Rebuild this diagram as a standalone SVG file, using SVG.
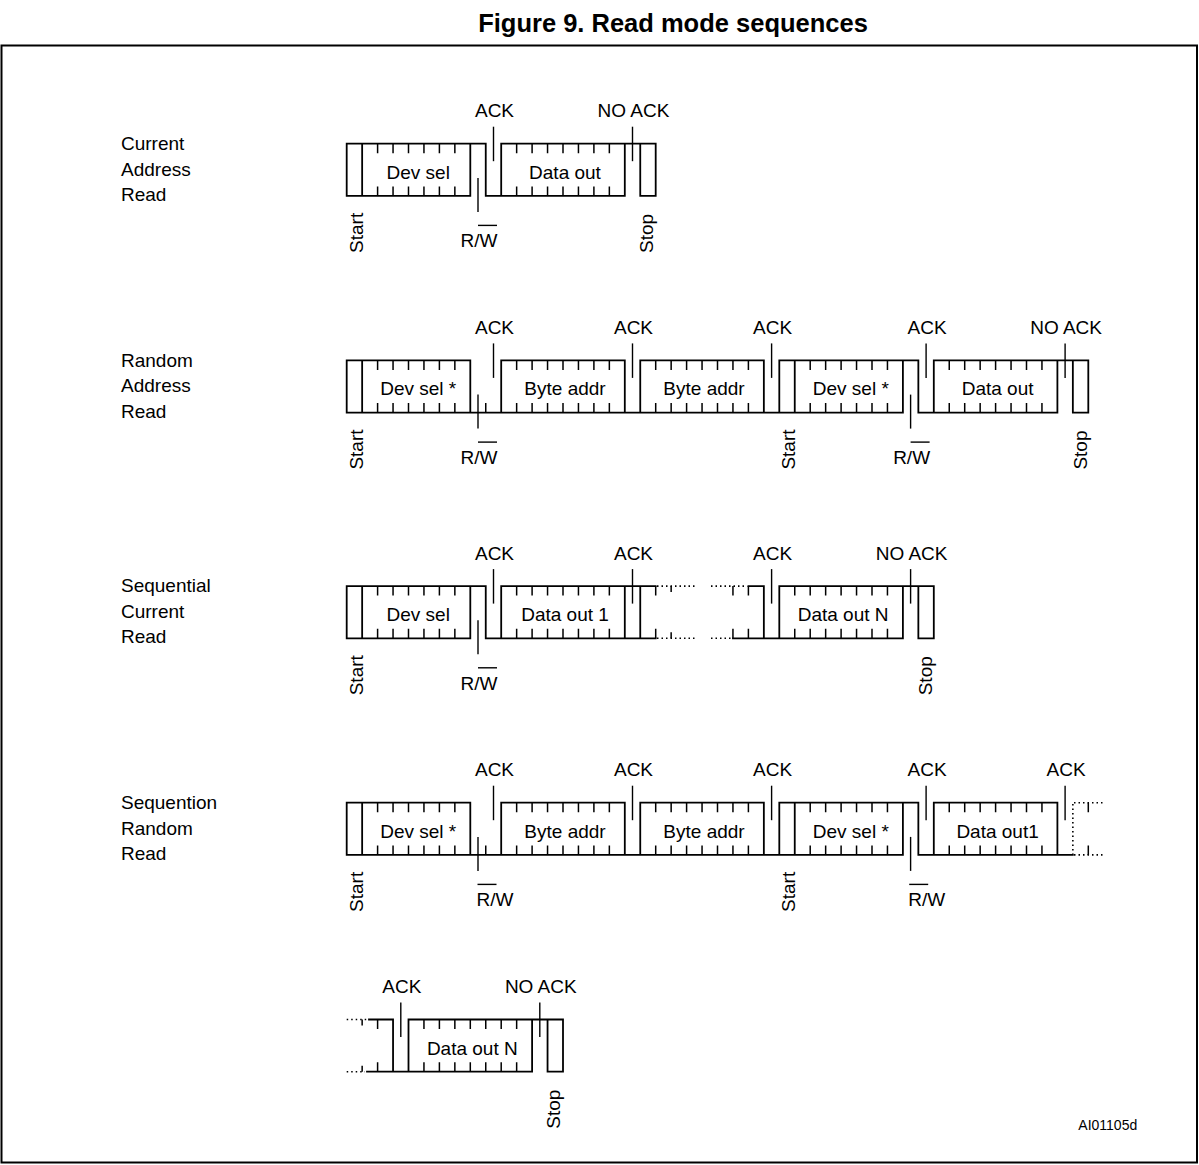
<svg xmlns="http://www.w3.org/2000/svg" xmlns:xlink="http://www.w3.org/1999/xlink" width="1199" height="1165" viewBox="0 0 1199 1165">
<defs>
<style>
.w{stroke:#000;stroke-width:1.8;fill:none;stroke-linecap:square}
.d{stroke:#000;stroke-width:1.6;fill:none;stroke-dasharray:1.5 3}
.k{stroke:#000;stroke-width:1.5;fill:none}
.m{stroke:#000;stroke-width:1.4;fill:none}
text{font-family:"Liberation Sans",Arial,Helvetica,sans-serif;font-size:19px;fill:#000}
.c{text-anchor:middle}
.title{font-size:25.5px;font-weight:bold}
.id{font-size:14px}
</style>
<path id="tk" class="k" d="M0 0v9.5M0 52.2v-9.5"/>
<path id="tkb" class="k" d="M0 52.2v-9.5"/>
<path id="tks" class="k" d="M0 0v6M0 52.2v-6"/>
<path id="mk" class="m" d="M0 -17V17.5"/>
<path id="mr" class="m" d="M0 -18V16"/>
<path id="ov" class="m" d="M0 0h19"/>
</defs>
<rect width="1199" height="1165" fill="#fff"/>
<text class="title c" x="673" y="31.5">Figure 9. Read mode sequences</text>
<rect x="1.5" y="45.5" width="1195.5" height="1117" fill="none" stroke="#000" stroke-width="2"/>

<g id="seq1">
<g id="seq1-name"><text x="121" y="150">Current</text><text x="121" y="175.5">Address</text><text x="121" y="201">Read</text></g>
<path class="w" d="M346.7 143.7H485.75M501.2 143.7H655.7M346.7 195.9H470.3M485.75 195.9H624.8M640.25 195.9H655.7M346.7 143.7V195.9M362.15 143.7V195.9M470.3 143.7V195.9M485.75 143.7V195.9M501.2 143.7V195.9M624.8 143.7V195.9M640.25 143.7V195.9M655.7 143.7V195.9"/>
<g id="seq1-devsel"><use href="#tk" x="377.6" y="143.7"/><use href="#tk" x="393.05" y="143.7"/><use href="#tk" x="408.5" y="143.7"/><use href="#tk" x="423.95" y="143.7"/><use href="#tk" x="439.4" y="143.7"/><use href="#tk" x="454.85" y="143.7"/><text class="c" x="418.2" y="178.7">Dev sel</text></g>
<g id="seq1-dataout"><use href="#tk" x="516.65" y="143.7"/><use href="#tk" x="532.1" y="143.7"/><use href="#tk" x="547.55" y="143.7"/><use href="#tk" x="563" y="143.7"/><use href="#tk" x="578.45" y="143.7"/><use href="#tk" x="593.9" y="143.7"/><use href="#tk" x="609.35" y="143.7"/><text class="c" x="565" y="178.7">Data out</text></g>
<text class="c" x="494.5" y="117.2">ACK</text>
<text class="c" x="633.5" y="117.2">NO ACK</text>
<text class="c" x="479" y="247.4">R/W</text><use href="#ov" x="478" y="225.4"/>
<text transform="translate(363,252.9) rotate(-90)">Start</text>
<text transform="translate(653.2,252.9) rotate(-90)">Stop</text>
</g>

<g id="seq2">
<g id="seq2-name"><text x="121" y="366.7">Random</text><text x="121" y="392.2">Address</text><text x="121" y="417.7">Read</text></g>
<path class="w" d="M346.7 360.4H470.3M501.2 360.4H624.8M640.25 360.4H763.85M779.3 360.4H918.35M933.8 360.4H1088.3M346.7 412.6H902.9M918.35 412.6H1057.4M1072.85 412.6H1088.3M346.7 360.4V412.6M362.15 360.4V412.6M470.3 360.4V412.6M501.2 360.4V412.6M624.8 360.4V412.6M640.25 360.4V412.6M763.85 360.4V412.6M779.3 360.4V412.6M794.75 360.4V412.6M902.9 360.4V412.6M918.35 360.4V412.6M933.8 360.4V412.6M1057.4 360.4V412.6M1072.85 360.4V412.6M1088.3 360.4V412.6"/>
<use href="#tkb" x="485.75" y="360.4"/>
<g id="seq2-devsel1"><use href="#tk" x="377.6" y="360.4"/><use href="#tk" x="393.05" y="360.4"/><use href="#tk" x="408.5" y="360.4"/><use href="#tk" x="423.95" y="360.4"/><use href="#tk" x="439.4" y="360.4"/><use href="#tk" x="454.85" y="360.4"/><text class="c" x="418.2" y="395.4">Dev sel *</text></g>
<g id="seq2-byte1"><use href="#tk" x="516.65" y="360.4"/><use href="#tk" x="532.1" y="360.4"/><use href="#tk" x="547.55" y="360.4"/><use href="#tk" x="563" y="360.4"/><use href="#tk" x="578.45" y="360.4"/><use href="#tk" x="593.9" y="360.4"/><use href="#tk" x="609.35" y="360.4"/><text class="c" x="565" y="395.4">Byte addr</text></g>
<g id="seq2-byte2"><use href="#tk" x="655.7" y="360.4"/><use href="#tk" x="671.15" y="360.4"/><use href="#tk" x="686.6" y="360.4"/><use href="#tk" x="702.05" y="360.4"/><use href="#tk" x="717.5" y="360.4"/><use href="#tk" x="732.95" y="360.4"/><use href="#tk" x="748.4" y="360.4"/><text class="c" x="704" y="395.4">Byte addr</text></g>
<g id="seq2-devsel2"><use href="#tk" x="810.2" y="360.4"/><use href="#tk" x="825.65" y="360.4"/><use href="#tk" x="841.1" y="360.4"/><use href="#tk" x="856.55" y="360.4"/><use href="#tk" x="872" y="360.4"/><use href="#tk" x="887.45" y="360.4"/><text class="c" x="850.8" y="395.4">Dev sel *</text></g>
<g id="seq2-dataout"><use href="#tk" x="949.25" y="360.4"/><use href="#tk" x="964.7" y="360.4"/><use href="#tk" x="980.15" y="360.4"/><use href="#tk" x="995.6" y="360.4"/><use href="#tk" x="1011.05" y="360.4"/><use href="#tk" x="1026.5" y="360.4"/><use href="#tk" x="1041.95" y="360.4"/><text class="c" x="997.6" y="395.4">Data out</text></g>
<text class="c" x="494.5" y="333.9">ACK</text><text class="c" x="633.5" y="333.9">ACK</text><text class="c" x="772.6" y="333.9">ACK</text><text class="c" x="927.1" y="333.9">ACK</text><text class="c" x="1066.1" y="333.9">NO ACK</text>
<text class="c" x="479" y="464.1">R/W</text><use href="#ov" x="478" y="442.1"/>
<text class="c" x="911.6" y="464.1">R/W</text><use href="#ov" x="910.6" y="442.1"/>
<text transform="translate(363,469.6) rotate(-90)">Start</text>
<text transform="translate(795.2,469.6) rotate(-90)">Start</text>
<text transform="translate(1086.5,469.6) rotate(-90)">Stop</text>
</g>

<g id="seq3">
<g id="seq3-name"><text x="121" y="592.4">Sequential</text><text x="121" y="617.9">Current</text><text x="121" y="643.4">Read</text></g>
<path class="w" d="M346.7 586.1H485.75M501.2 586.1H655.7M748.4 586.1H763.85M779.3 586.1H933.8M346.7 638.3H470.3M485.75 638.3H655.7M732.95 638.3H902.9M918.35 638.3H933.8M346.7 586.1V638.3M362.15 586.1V638.3M470.3 586.1V638.3M485.75 586.1V638.3M501.2 586.1V638.3M624.8 586.1V638.3M640.25 586.1V638.3M763.85 586.1V638.3M779.3 586.1V638.3M902.9 586.1V638.3M918.35 586.1V638.3M933.8 586.1V638.3"/>
<path class="d" d="M657 586.1H697M711 586.1H746M657 638.3H697M711 638.3H731"/>
<g id="seq3-devsel"><use href="#tk" x="377.6" y="586.1"/><use href="#tk" x="393.05" y="586.1"/><use href="#tk" x="408.5" y="586.1"/><use href="#tk" x="423.95" y="586.1"/><use href="#tk" x="439.4" y="586.1"/><use href="#tk" x="454.85" y="586.1"/><text class="c" x="418.2" y="621.1">Dev sel</text></g>
<g id="seq3-data1"><use href="#tk" x="516.65" y="586.1"/><use href="#tk" x="532.1" y="586.1"/><use href="#tk" x="547.55" y="586.1"/><use href="#tk" x="563" y="586.1"/><use href="#tk" x="578.45" y="586.1"/><use href="#tk" x="593.9" y="586.1"/><use href="#tk" x="609.35" y="586.1"/><text class="c" x="565" y="621.1">Data out 1</text></g>
<g id="seq3-dataetc"><use href="#tk" x="655.7" y="586.1"/><use href="#tks" x="671.15" y="586.1"/><use href="#tk" x="732.95" y="586.1"/><use href="#tk" x="748.4" y="586.1"/></g>
<g id="seq3-dataN"><use href="#tk" x="794.75" y="586.1"/><use href="#tk" x="810.2" y="586.1"/><use href="#tk" x="825.65" y="586.1"/><use href="#tk" x="841.1" y="586.1"/><use href="#tk" x="856.55" y="586.1"/><use href="#tk" x="872" y="586.1"/><use href="#tk" x="887.45" y="586.1"/><text class="c" x="843.1" y="621.1">Data out N</text></g>
<text class="c" x="494.5" y="559.6">ACK</text><text class="c" x="633.5" y="559.6">ACK</text><text class="c" x="772.6" y="559.6">ACK</text><text class="c" x="911.6" y="559.6">NO ACK</text>
<text class="c" x="479" y="689.8">R/W</text><use href="#ov" x="478" y="667.8"/>
<text transform="translate(363,695.3) rotate(-90)">Start</text>
<text transform="translate(931.5,695.3) rotate(-90)">Stop</text>
</g>

<g id="seq4">
<g id="seq4-name"><text x="121" y="809">Sequention</text><text x="121" y="834.5">Random</text><text x="121" y="860">Read</text></g>
<path class="w" d="M346.7 802.7H470.3M501.2 802.7H624.8M640.25 802.7H763.85M779.3 802.7H918.35M933.8 802.7H1057.4M346.7 854.9H902.9M918.35 854.9H1072.85M346.7 802.7V854.9M362.15 802.7V854.9M470.3 802.7V854.9M501.2 802.7V854.9M624.8 802.7V854.9M640.25 802.7V854.9M763.85 802.7V854.9M779.3 802.7V854.9M794.75 802.7V854.9M902.9 802.7V854.9M918.35 802.7V854.9M933.8 802.7V854.9M1057.4 802.7V854.9"/>
<path class="d" d="M1074 802.7H1105M1074 854.9H1104M1072.85 804V854"/>
<use href="#tkb" x="485.75" y="802.7"/>
<g id="seq4-devsel1"><use href="#tk" x="377.6" y="802.7"/><use href="#tk" x="393.05" y="802.7"/><use href="#tk" x="408.5" y="802.7"/><use href="#tk" x="423.95" y="802.7"/><use href="#tk" x="439.4" y="802.7"/><use href="#tk" x="454.85" y="802.7"/><text class="c" x="418.2" y="837.7">Dev sel *</text></g>
<g id="seq4-byte1"><use href="#tk" x="516.65" y="802.7"/><use href="#tk" x="532.1" y="802.7"/><use href="#tk" x="547.55" y="802.7"/><use href="#tk" x="563" y="802.7"/><use href="#tk" x="578.45" y="802.7"/><use href="#tk" x="593.9" y="802.7"/><use href="#tk" x="609.35" y="802.7"/><text class="c" x="565" y="837.7">Byte addr</text></g>
<g id="seq4-byte2"><use href="#tk" x="655.7" y="802.7"/><use href="#tk" x="671.15" y="802.7"/><use href="#tk" x="686.6" y="802.7"/><use href="#tk" x="702.05" y="802.7"/><use href="#tk" x="717.5" y="802.7"/><use href="#tk" x="732.95" y="802.7"/><use href="#tk" x="748.4" y="802.7"/><text class="c" x="704" y="837.7">Byte addr</text></g>
<g id="seq4-devsel2"><use href="#tk" x="810.2" y="802.7"/><use href="#tk" x="825.65" y="802.7"/><use href="#tk" x="841.1" y="802.7"/><use href="#tk" x="856.55" y="802.7"/><use href="#tk" x="872" y="802.7"/><use href="#tk" x="887.45" y="802.7"/><text class="c" x="850.8" y="837.7">Dev sel *</text></g>
<g id="seq4-data1"><use href="#tk" x="949.25" y="802.7"/><use href="#tk" x="964.7" y="802.7"/><use href="#tk" x="980.15" y="802.7"/><use href="#tk" x="995.6" y="802.7"/><use href="#tk" x="1011.05" y="802.7"/><use href="#tk" x="1026.5" y="802.7"/><use href="#tk" x="1041.95" y="802.7"/><text class="c" x="997.6" y="837.7">Data out1</text></g>
<use href="#tk" x="1088.3" y="802.7"/>
<text class="c" x="494.5" y="776.2">ACK</text><text class="c" x="633.5" y="776.2">ACK</text><text class="c" x="772.6" y="776.2">ACK</text><text class="c" x="927.1" y="776.2">ACK</text><text class="c" x="1066.1" y="776.2">ACK</text>
<text class="c" x="495" y="906.4">R/W</text><use href="#ov" x="477.5" y="884.4"/>
<text class="c" x="926.7" y="906.4">R/W</text><use href="#ov" x="909.2" y="884.4"/>
<text transform="translate(363,911.9) rotate(-90)">Start</text>
<text transform="translate(795.2,911.9) rotate(-90)">Start</text>
</g>

<g id="seq5">
<path class="w" d="M369 1019.5H393.05M408.5 1019.5H563M367 1071.7H532.1M547.55 1071.7H563M393.05 1019.5V1071.7M408.5 1019.5V1071.7M532.1 1019.5V1071.7M547.55 1019.5V1071.7M563 1019.5V1071.7"/>
<path class="d" d="M346.7 1019.5H367M346.7 1071.7H365"/>
<use href="#tks" x="362.15" y="1019.5"/><use href="#tk" x="377.6" y="1019.5"/>
<g id="seq5-dataN"><use href="#tk" x="423.95" y="1019.5"/><use href="#tk" x="439.4" y="1019.5"/><use href="#tk" x="454.85" y="1019.5"/><use href="#tk" x="470.3" y="1019.5"/><use href="#tk" x="485.75" y="1019.5"/><use href="#tk" x="501.2" y="1019.5"/><use href="#tk" x="516.65" y="1019.5"/><text class="c" x="472.3" y="1054.5">Data out N</text></g>
<text class="c" x="401.8" y="993">ACK</text><text class="c" x="540.8" y="993">NO ACK</text>
<text transform="translate(559.8,1128.7) rotate(-90)">Stop</text>
</g>

<g id="connectors">
<use href="#mk" x="493.5" y="143.7"/><use href="#mk" x="632.5" y="143.7"/><use href="#mr" x="478" y="195.9"/>
<use href="#mk" x="493.5" y="360.4"/><use href="#mk" x="632.5" y="360.4"/><use href="#mk" x="771.6" y="360.4"/><use href="#mk" x="926.1" y="360.4"/><use href="#mk" x="1065.1" y="360.4"/><use href="#mr" x="478" y="412.6"/><use href="#mr" x="910.6" y="412.6"/>
<use href="#mk" x="493.5" y="586.1"/><use href="#mk" x="632.5" y="586.1"/><use href="#mk" x="771.6" y="586.1"/><use href="#mk" x="910.6" y="586.1"/><use href="#mr" x="478" y="638.3"/>
<use href="#mk" x="493.5" y="802.7"/><use href="#mk" x="632.5" y="802.7"/><use href="#mk" x="771.6" y="802.7"/><use href="#mk" x="926.1" y="802.7"/><use href="#mk" x="1065.1" y="802.7"/><use href="#mr" x="478" y="854.9"/><use href="#mr" x="910.6" y="854.9"/>
<use href="#mk" x="400.8" y="1019.5"/><use href="#mk" x="539.8" y="1019.5"/>
</g>

<text class="id" x="1078.3" y="1130">AI01105d</text>
</svg>
